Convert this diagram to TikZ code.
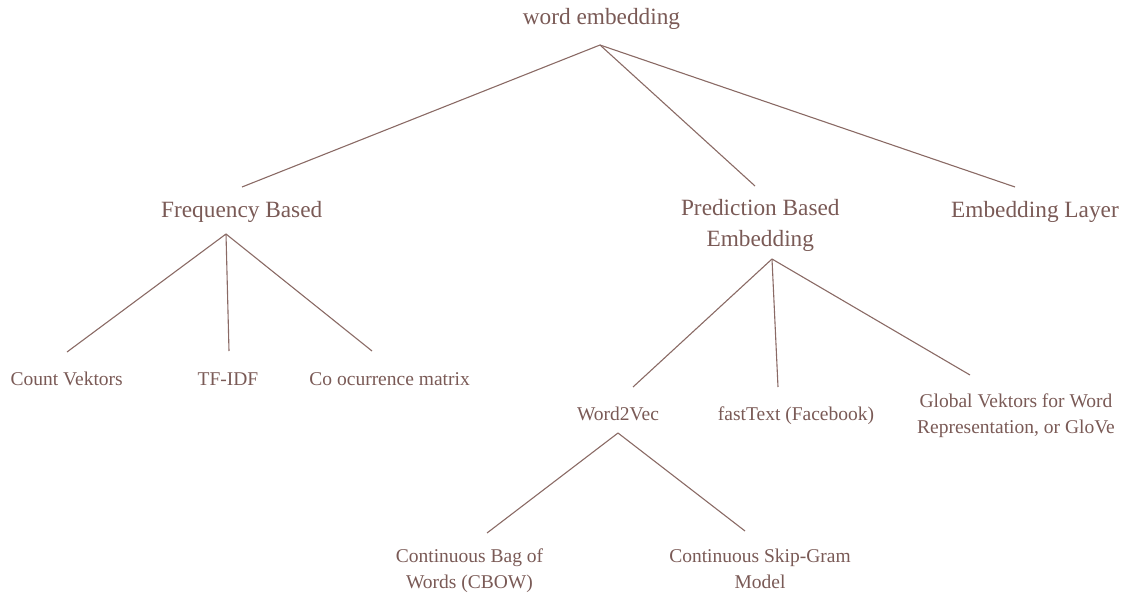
\documentclass[tikz,border=0pt]{standalone}
\usepackage{fontspec}
\setmainfont{Liberation Serif}
\definecolor{ink}{HTML}{7A5A56}
\definecolor{wire}{HTML}{8A6A65}
\begin{document}
\begin{tikzpicture}[x=1pt,y=-1pt,
  lbl/.style={text=ink,inner sep=0pt,anchor=base,align=center},
  big/.style={lbl,font=\fontsize{23.3}{31}\selectfont},
  small/.style={lbl,font=\fontsize{19.5}{26}\selectfont},
  edge/.style={draw=wire,line width=1.1pt}]
\useasboundingbox (0,0) rectangle (1130,597);

% labels (base anchor sits on the last line's baseline)
\node[big] (root) at (601.5,24) {word embedding};
\node[big] (freq) at (241.7,217) {Frequency Based};
\node[big] (pred) at (760.3,246) {Prediction Based\\Embedding};
\node[big] (layer) at (1035,217) {Embedding Layer};
\node[small] (count) at (66.7,385) {Count Vektors};
\node[small] (tfidf) at (228,385) {TF-IDF};
\node[small] (cooc) at (389.6,385) {Co ocurrence matrix};
\node[small] (w2v) at (618,420) {Word2Vec};
\node[small] (fast) at (796,420) {fastText (Facebook)};
\node[small] (glove) at (1016,433) {Global Vektors for Word\\Representation, or GloVe};
\node[small] (cbow) at (469.5,588) {Continuous Bag of\\Words (CBOW)};
\node[small] (skip) at (760,588) {Continuous Skip-Gram\\Model};

% connector ends
\coordinate (root-b) at (600,45);
\coordinate (freq-t) at (242,187);
\coordinate (pred-t) at (755,186);
\coordinate (layer-t) at (1015,187);
\coordinate (freq-b) at (226,234);
\coordinate (count-t) at (67,352);
\coordinate (tfidf-t) at (229,351);
\coordinate (cooc-t) at (372,351);
\coordinate (pred-b) at (772,259);
\coordinate (w2v-t) at (633,387);
\coordinate (fast-t) at (778,387);
\coordinate (glove-t) at (970,375);
\coordinate (w2v-b) at (618,433);
\coordinate (cbow-t) at (487,533);
\coordinate (skip-t) at (745,531);

% tree edges
\draw[edge] (root-b) -- (freq-t);
\draw[edge] (root-b) -- (pred-t);
\draw[edge] (root-b) -- (layer-t);
\draw[edge] (freq-b) -- (count-t);
\draw[edge] (freq-b) -- (tfidf-t);
\draw[edge] (freq-b) -- (cooc-t);
\draw[edge] (pred-b) -- (w2v-t);
\draw[edge] (pred-b) -- (fast-t);
\draw[edge] (pred-b) -- (glove-t);
\draw[edge] (w2v-b) -- (cbow-t);
\draw[edge] (w2v-b) -- (skip-t);
\end{tikzpicture}
\end{document}
